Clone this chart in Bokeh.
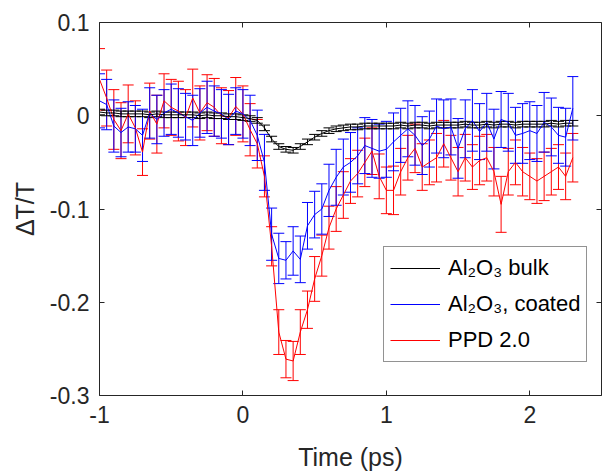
from bokeh.plotting import figure
from bokeh.models import (ColumnDataSource, Whisker, TeeHead, Legend, LegendItem,
                          LinearAxis, FixedTicker, NumeralTickFormatter, Range1d,
                          CustomJSTickFormatter)
from bokeh.embed import file_html
from bokeh.resources import INLINE

# ---------------- data ----------------
time_ps = [-1.00, -0.95, -0.90, -0.85, -0.80, -0.75, -0.70, -0.65, -0.60, -0.55,
           -0.50, -0.45, -0.40, -0.35, -0.30, -0.25, -0.20, -0.15, -0.10, -0.05,
           0.00, 0.05, 0.10, 0.15, 0.20, 0.25, 0.30, 0.35, 0.40, 0.45,
           0.50, 0.55, 0.60, 0.65, 0.70, 0.75, 0.80, 0.85, 0.90, 0.95,
           1.00, 1.05, 1.10, 1.15, 1.20, 1.25, 1.30, 1.35, 1.40, 1.45,
           1.50, 1.55, 1.60, 1.65, 1.70, 1.75, 1.80, 1.85, 1.90, 1.95,
           2.00, 2.05, 2.10, 2.15, 2.20, 2.25, 2.30]

bulk = [0.004, 0.003, 0.003, 0.002, 0.002, 0.002, 0.002, 0.001, 0.002, 0.001,
        0.001, 0.001, 0.001, 0.001, 0.000, 0.001, 0.000, 0.000, -0.001, -0.001,
        -0.002, -0.003, -0.005, -0.013, -0.025, -0.033, -0.036, -0.037, -0.033, -0.028,
        -0.023, -0.019, -0.016, -0.014, -0.013, -0.012, -0.012, -0.011, -0.011, -0.011,
        -0.011, -0.011, -0.010, -0.011, -0.010, -0.010, -0.011, -0.010, -0.010, -0.010,
        -0.010, -0.009, -0.010, -0.010, -0.009, -0.010, -0.009, -0.009, -0.010, -0.009,
        -0.009, -0.009, -0.009, -0.008, -0.009, -0.008, -0.008]
bulk_err = [0.003, 0.003, 0.003, 0.003, 0.003, 0.003, 0.003, 0.003, 0.003, 0.003,
            0.003, 0.003, 0.003, 0.003, 0.003, 0.003, 0.003, 0.003, 0.003, 0.003,
            0.003, 0.003, 0.003, 0.003, 0.003, 0.003, 0.003, 0.003, 0.003, 0.003,
            0.003, 0.003, 0.003, 0.003, 0.003, 0.003, 0.003, 0.003, 0.003, 0.003,
            0.003, 0.003, 0.003, 0.003, 0.003, 0.003, 0.003, 0.003, 0.003, 0.003,
            0.003, 0.003, 0.003, 0.003, 0.003, 0.003, 0.003, 0.003, 0.003, 0.003,
            0.003, 0.003, 0.003, 0.003, 0.003, 0.003, 0.003]

coated = [0.016, 0.012, -0.011, -0.018, -0.012, -0.014, -0.021, 0.003, -0.004, 0.003,
          0.007, 0.003, -0.001, -0.005, 0.003, 0.009, 0.005, 0.002, -0.004, 0.005,
          0.002, -0.005, -0.021, -0.050, -0.127, -0.153, -0.155, -0.145, -0.154, -0.118,
          -0.106, -0.100, -0.080, -0.066, -0.055, -0.050, -0.043, -0.032, -0.035, -0.038,
          -0.036, -0.028, -0.021, -0.014, -0.021, -0.032, -0.025, -0.011, -0.014, -0.012,
          -0.035, -0.014, -0.005, -0.017, -0.007, -0.025, -0.004, -0.007, -0.021, -0.019,
          -0.016, -0.019, -0.007, -0.012, -0.021, -0.023, 0.008]
coated_err = [0.029, 0.027, 0.028, 0.026, 0.027, 0.025, 0.028, 0.027, 0.026, 0.025,
              0.027, 0.026, 0.025, 0.027, 0.026, 0.028, 0.027, 0.026, 0.027, 0.025,
              0.026, 0.027, 0.027, 0.030, 0.028, 0.027, 0.020, 0.026, 0.025, 0.025,
              0.025, 0.027, 0.028, 0.030, 0.030, 0.032, 0.030, 0.030, 0.031, 0.029,
              0.030, 0.031, 0.029, 0.030, 0.032, 0.031, 0.030, 0.029, 0.031, 0.030,
              0.032, 0.031, 0.033, 0.030, 0.031, 0.032, 0.030, 0.031, 0.030, 0.032,
              0.031, 0.030, 0.032, 0.031, 0.030, 0.031, 0.034]

ppd = [0.039, 0.019, -0.004, -0.016, 0.002, -0.013, -0.039, 0.005, -0.009, 0.016,
       0.009, 0.005, -0.002, 0.019, 0.003, 0.014, 0.009, 0.000, -0.002, 0.010,
       0.002, -0.015, -0.030, -0.065, -0.140, -0.232, -0.261, -0.263, -0.232, -0.208,
       -0.175, -0.150, -0.120, -0.100, -0.085, -0.070, -0.062, -0.050, -0.038, -0.065,
       -0.080, -0.080, -0.060, -0.045, -0.035, -0.055, -0.050, -0.045, -0.030, -0.045,
       -0.060, -0.045, -0.055, -0.048, -0.045, -0.060, -0.095, -0.060, -0.050, -0.060,
       -0.065, -0.070, -0.065, -0.060, -0.055, -0.065, -0.045]
ppd_err = [0.033, 0.030, 0.032, 0.030, 0.031, 0.029, 0.025, 0.030, 0.031, 0.029,
           0.030, 0.032, 0.030, 0.031, 0.029, 0.030, 0.031, 0.030, 0.029, 0.031,
           0.030, 0.028, 0.026, 0.022, 0.021, 0.024, 0.020, 0.021, 0.024, 0.020,
           0.024, 0.022, 0.023, 0.024, 0.025, 0.024, 0.025, 0.026, 0.025, 0.024,
           0.025, 0.026, 0.025, 0.024, 0.026, 0.025, 0.024, 0.026, 0.025, 0.024,
           0.026, 0.025, 0.024, 0.026, 0.025, 0.026, 0.030, 0.025, 0.024, 0.026,
           0.025, 0.024, 0.026, 0.025, 0.024, 0.025, 0.026]

series_names = ["Al\u2082O\u2083 bulk", "Al\u2082O\u2083, coated", "PPD 2.0"]
series_colors = ["#000000", "#0000ff", "#ff0000"]
x_ticks = [-1, 0, 1, 2]
y_ticks = [-0.3, -0.2, -0.1, 0, 0.1]
x_label = "Time (ps)"
y_label = "\u0394T/T"

FONT = "Liberation Sans"
AX = "#262626"

p = figure(width=603, height=473, x_range=Range1d(-1, 2.5), y_range=Range1d(-0.3, 0.1),
           output_backend="svg", toolbar_location=None,
           min_border_left=99, min_border_right=2, min_border_top=22, min_border_bottom=73)
p.grid.visible = False
p.outline_line_color = None
p.background_fill_color = "white"
p.border_fill_color = "white"

def style_axis(ax, labels=True):
    ax.axis_line_color = AX
    ax.axis_line_width = 1
    ax.major_tick_line_color = AX
    ax.major_tick_in = 5
    ax.major_tick_out = 0
    ax.minor_tick_line_color = None
    ax.major_label_text_font = FONT
    ax.major_label_text_color = AX
    ax.axis_label_text_font = FONT
    ax.axis_label_text_color = AX
    ax.axis_label_text_font_style = "normal"
    if not labels:
        ax.formatter = CustomJSTickFormatter(code="return ''")
        ax.major_label_standoff = 0

xa = p.xaxis[0]
ya = p.yaxis[0]
xa.ticker = FixedTicker(ticks=x_ticks)
ya.ticker = FixedTicker(ticks=y_ticks)
xa.formatter = NumeralTickFormatter(format="0.[0]")
ya.formatter = NumeralTickFormatter(format="0.[0]")
style_axis(xa)
style_axis(ya)
xa.major_label_text_font_size = "23px"
ya.major_label_text_font_size = "23px"
xa.major_label_standoff = 10
ya.major_label_standoff = 10
xa.axis_label = x_label
ya.axis_label = y_label
xa.axis_label_text_font_size = "25px"
ya.axis_label_text_font_size = "25px"
xa.axis_label_standoff = 17
ya.axis_label_standoff = 8

top = LinearAxis(ticker=FixedTicker(ticks=x_ticks))
right = LinearAxis(ticker=FixedTicker(ticks=y_ticks))
style_axis(top, labels=False)
style_axis(right, labels=False)
p.add_layout(top, "above")
p.add_layout(right, "right")

series = [(bulk, bulk_err), (coated, coated_err), (ppd, ppd_err)]
sources = []
for vals, errs in series:
    sources.append(ColumnDataSource(dict(t=time_ps, v=vals,
                                         lo=[v - e for v, e in zip(vals, errs)],
                                         hi=[v + e for v, e in zip(vals, errs)])))

draw_order = [2, 1, 0]
glyphs = {}
for i in draw_order:
    src, col = sources[i], series_colors[i]
    w = Whisker(source=src, base="t", lower="lo", upper="hi",
                line_color=col, line_width=1,
                upper_head=TeeHead(size=11, line_color=col, line_width=1),
                lower_head=TeeHead(size=11, line_color=col, line_width=1))
    p.add_layout(w)
    glyphs[i] = p.line("t", "v", source=src, line_color=col, line_width=1)

legend = Legend(items=[LegendItem(label=series_names[i], renderers=[glyphs[i]]) for i in range(3)],
                location=(284, 33), margin=0, padding=6, spacing=6,
                label_height=30, glyph_height=30, glyph_width=50, label_standoff=8,
                label_text_font=FONT, label_text_font_size="22px", label_text_color="#000000",
                border_line_color=AX, border_line_width=1, background_fill_color="white",
                background_fill_alpha=1)
p.add_layout(legend, "center")

open("out.html", "w").write(file_html(p, INLINE))
